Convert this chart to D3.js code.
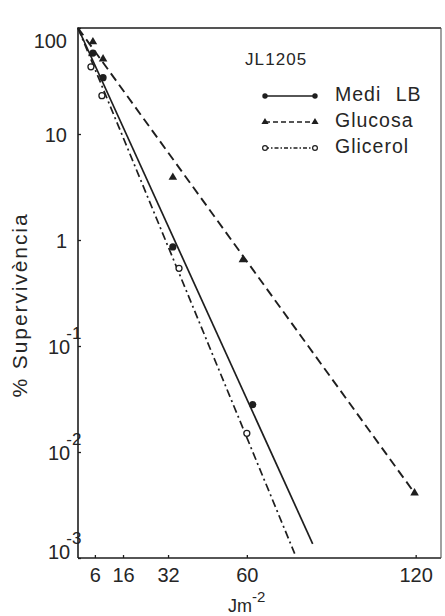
<!DOCTYPE html>
<html>
<head>
<meta charset="utf-8">
<script src="https://cdn.jsdelivr.net/npm/d3@7"></script>
<style>
  body { margin: 0; background: #fff; }
  svg { display: block; }
  text { font-family: "Liberation Sans", Arial, sans-serif; fill: #262626; }
</style>
</head>
<body>
<svg id="chart" width="445" height="616"></svg>
<script>
// Dose (J m^-2) axis ticks and survival (%) axis ticks
const xTicks = [6, 16, 32, 60, 120];
const yTicks = [100, 10, 1, 0.1, 0.01, 0.001];
const yTickBase = ["100", "10", "1", "10", "10", "10"];
const yTickExp = ["", "", "", "-1", "-2", "-3"];

const strainLabel = "JL1205";
const seriesNames = ["Medi LB", "Glucosa", "Glicerol"];

// Measured survival points per medium
const lbDose = [5.3, 8.9, 33.7, 62.1];
const lbSurv = [58, 34, 0.86, 0.028];
const gluDose = [5.3, 8.9, 33.7, 58.6, 119.6];
const gluSurv = [74, 51, 3.9, 0.65, 0.0041];
const glyDose = [4.6, 8.5, 35.9, 60.0];
const glySurv = [43, 23, 0.54, 0.015];

// Fitted inactivation lines, [dose, % survival] end points
const lbFit = [[0, 100], [83.4, 0.00136]];
const gluFit = [[0, 100], [119.6, 0.0041]];
const glyFit = [[0, 100], [77.0, 0.0011]];

const svg = d3.select("#chart");
const x = d3.scaleLinear([0, 129], [78, 441]);
const y = d3.scaleLog([0.001, 100], [558, 28]);
const ink = "#1e1e1e";

// X axis
const xAxis = svg.append("g")
  .attr("transform", `translate(0,${y(0.001)})`)
  .call(d3.axisBottom(x).tickValues(xTicks).tickSize(-3).tickPadding(10)
    .tickFormat(d3.format("d")));
xAxis.select(".domain").remove();
xAxis.selectAll(".tick line").attr("stroke", ink).attr("stroke-width", 1.3);
xAxis.selectAll(".tick text").attr("font-size", 20).attr("fill", "#262626")
  .style("font-family", '"Liberation Sans", Arial, sans-serif');

// Y axis (log) with power-of-ten labels written as base + raised exponent
const yAxis = svg.append("g")
  .attr("transform", `translate(${x(0)},0)`)
  .call(d3.axisLeft(y).tickValues(yTicks).tickSize(-3).tickFormat(""));
yAxis.select(".domain").remove();
yAxis.selectAll(".tick line").attr("stroke", ink).attr("stroke-width", 1.3);
yAxis.selectAll(".tick").each(function (d, i) {
  const g = d3.select(this);
  g.select("text").remove();
  const py = y(d);
  const base = Math.min(Math.max(py + 7, 47), 558) - py;
  const t = g.append("text")
    .attr("y", base)
    .attr("font-size", 20)
    .attr("fill", "#262626");
  if (yTickExp[i]) {
    t.attr("x", -30).attr("text-anchor", "start");
    t.append("tspan").text(yTickBase[i]);
    t.append("tspan").attr("dx", -4).attr("dy", -15)
      .attr("font-size", 17).text(yTickExp[i]);
  } else {
    t.attr("x", -11).attr("text-anchor", "end").text(yTickBase[i]);
  }
});

// Frame
const [x0, x1] = x.range();
const [yb, yt] = y.range();
svg.append("path")
  .attr("d", `M${x0},${yb}V${yt}H${x1}`)
  .attr("fill", "none").attr("stroke", ink).attr("stroke-width", 1.6);
svg.append("path")
  .attr("d", `M${x0},${yb}H${x1}`)
  .attr("fill", "none").attr("stroke", ink).attr("stroke-width", 1.6);
svg.append("path")
  .attr("d", `M${x1},${yt}V${yb}`)
  .attr("fill", "none").attr("stroke", "#555").attr("stroke-width", 1.1);

// Axis titles
svg.append("text")
  .attr("transform", "translate(27,305) rotate(-90)")
  .attr("text-anchor", "middle")
  .attr("font-size", 21)
  .attr("letter-spacing", 1.9)
  .text("% Supervivència");
const xt = svg.append("text")
  .attr("x", 228).attr("y", 612)
  .attr("font-size", 18);
xt.append("tspan").text("Jm");
xt.append("tspan").attr("dy", -10).attr("font-size", 15).text("-2");

// Fitted lines
const line = d3.line().x(d => x(d[0])).y(d => y(d[1]));
svg.append("path").datum(lbFit).attr("d", line)
  .attr("fill", "none").attr("stroke", ink).attr("stroke-width", 1.7);
svg.append("path").datum(gluFit).attr("d", line)
  .attr("fill", "none").attr("stroke", ink).attr("stroke-width", 1.9)
  .attr("stroke-dasharray", "9,5");
svg.append("path").datum(glyFit).attr("d", line)
  .attr("fill", "none").attr("stroke", ink).attr("stroke-width", 1.7)
  .attr("stroke-dasharray", "8,3.5,2,3.5");

// Points
const tri = d3.symbol().type(d3.symbolTriangle);
svg.append("g").selectAll("path")
  .data(gluDose.map((d, i) => [d, gluSurv[i]]))
  .join("path")
  .attr("transform", d => `translate(${x(d[0])},${y(d[1])})`)
  .attr("d", tri.size(32)())
  .attr("fill", ink);
svg.append("g").selectAll("circle")
  .data(lbDose.map((d, i) => [d, lbSurv[i]]))
  .join("circle")
  .attr("cx", d => x(d[0])).attr("cy", d => y(d[1])).attr("r", 3.6)
  .attr("fill", ink);
svg.append("g").selectAll("circle")
  .data(glyDose.map((d, i) => [d, glySurv[i]]))
  .join("circle")
  .attr("cx", d => x(d[0])).attr("cy", d => y(d[1])).attr("r", 3)
  .attr("fill", "#fff").attr("stroke", ink).attr("stroke-width", 1.3);

// Legend
svg.append("text")
  .attr("x", 245).attr("y", 65)
  .attr("font-size", 17).attr("letter-spacing", 1.1)
  .text(strainLabel);
const legBase = [101, 127, 153];
const legStyles = [
  { dash: null, mark: "dot" },
  { dash: "5,3", mark: "tri" },
  { dash: "4,2,1.5,2", mark: "ring" }
];
seriesNames.forEach((name, i) => {
  const ly = legBase[i] - 5;
  const st = legStyles[i];
  svg.append("line")
    .attr("x1", 265).attr("x2", 315).attr("y1", ly).attr("y2", ly)
    .attr("stroke", ink).attr("stroke-width", 1.6)
    .attr("stroke-dasharray", st.dash);
  [265, 315].forEach(mx => {
    if (st.mark === "dot") {
      svg.append("circle").attr("cx", mx).attr("cy", ly).attr("r", 2.7).attr("fill", ink);
    } else if (st.mark === "tri") {
      svg.append("path").attr("transform", `translate(${mx},${ly})`)
        .attr("d", tri.size(22)()).attr("fill", ink);
    } else {
      svg.append("circle").attr("cx", mx).attr("cy", ly).attr("r", 2.4)
        .attr("fill", "#fff").attr("stroke", ink).attr("stroke-width", 1.2);
    }
  });
  svg.append("text")
    .attr("x", 335).attr("y", legBase[i])
    .attr("font-size", 19.5).attr("letter-spacing", 1)
    .attr("word-spacing", i === 0 ? 8 : 0)
    .text(name);
});
</script>
</body>
</html>
